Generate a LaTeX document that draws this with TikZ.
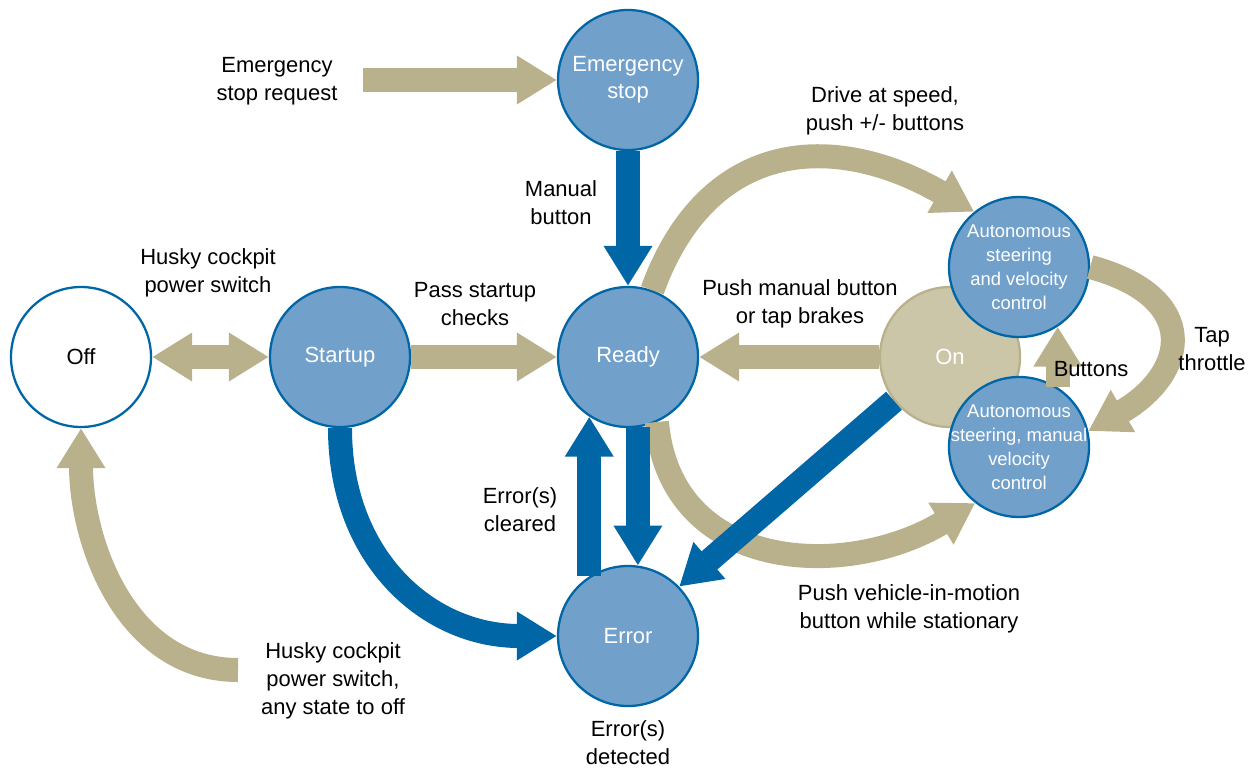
\documentclass[tikz,border=0pt]{standalone}
\usepackage{fontspec}
\setmainfont{Liberation Sans}
\usepackage{xcolor}
\usepackage{tikz}
\usetikzlibrary{arrows.meta,positioning,calc}
\definecolor{StateBlue}{HTML}{71A0CB}
\definecolor{EdgeBlue}{HTML}{0066A6}
\definecolor{Khaki}{HTML}{B9B08C}
\definecolor{KhakiLight}{HTML}{CCC6A8}
\tikzset{
  fat/.tip={Triangle[width=0.92cm,length=0.8cm]},
  state/.style={circle,minimum size=2.8cm,inner sep=0pt,draw=EdgeBlue,line width=1.3pt,fill=StateBlue,text=white,align=center,font=\fontsize{12.5}{15.4}\selectfont},
  smallstate/.style={state,inner sep=-0.8cm,font=\fontsize{10.5}{13.6}\selectfont},
  khakiarrow/.style={line width=0.48cm,Khaki,-fat},
  bluearrow/.style={line width=0.48cm,EdgeBlue,-fat},
  lbl/.style={align=center,font=\fontsize{12.5}{15.9}\selectfont}
}
\begin{document}
\begin{tikzpicture}
  \useasboundingbox (0,0) rectangle (25.18,15.4);
  % states
  \node[state,fill=white,text=black] (off) at (1.62,8.26) {Off};
  \node[state] (startup) at (6.80,8.26) {Startup};
  \node[state] (ready) at (12.56,8.26) {Ready};
  \node[state] (estop) at (12.56,13.80) {Emergency\\stop};
  \node[state] (error) at (12.56,2.68) {Error};
  \node[state,fill=KhakiLight,draw=Khaki] (on) at (19.00,8.26) {On};
  \node[smallstate] (autoA) at (20.38,10.06) {Autonomous\\steering\\and velocity\\control};
  \node[smallstate] (autoB) at (20.38,6.46) {Autonomous\\steering, manual\\velocity\\control};
  \coordinate (req) at (7.26,13.80);
  \coordinate (offback) at (4.76,2.00);
  % khaki transitions
  \draw[khakiarrow] (req) -- (estop);
  \draw[khakiarrow,fat-fat] (off) -- (startup);
  \draw[khakiarrow] (startup) -- (ready);
  \draw[khakiarrow] (on) -- (ready);
  \draw[khakiarrow] (ready.70) to[out=70,in=150,looseness=1.25] (autoA.129);
  \draw[khakiarrow] (ready.-66) to[out=-85,in=211,looseness=1.18] (autoB.232);
  \draw[khakiarrow] (autoA.0) to[out=-15,in=30,looseness=1.8] (autoB.13);
  \draw[khakiarrow] (autoB.57) -- (autoA.-57);
  \draw[khakiarrow] (offback) to[out=180,in=-90] (off.south);
  % blue transitions
  \draw[bluearrow] (estop) -- (ready);
  \draw[bluearrow] (ready.-82) -- (error.82);
  \draw[bluearrow] (error.123) -- (ready.-123);
  \draw[bluearrow] (startup.south) to[out=-90,in=180,looseness=1.1] (error.west);
  \draw[bluearrow] (on.218) -- (error.44);
  % labels
  \node[lbl] (reqlbl) at (5.54,13.78) {Emergency\\stop request};
  \node[lbl] (manlbl) at (11.22,11.34) {Manual\\button};
  \node[lbl] (drivelbl) at (17.70,13.18) {Drive at speed,\\push +/- buttons};
  \node[lbl] (pwrlbl) at (4.16,9.94) {Husky cockpit\\power switch};
  \node[lbl] (passlbl) at (9.50,9.32) {Pass startup\\checks};
  \node[lbl] (brakelbl) at (16.00,9.32) {Push manual button\\or tap brakes};
  \node[lbl] (taplbl) at (24.24,8.42) {Tap\\throttle};
  \node[lbl] (btnlbl) at (21.82,8.02) {Buttons};
  \node[lbl] (clrlbl) at (10.40,5.20) {Error(s)\\cleared};
  \node[lbl] (motionlbl) at (18.18,3.22) {Push vehicle-in-motion\\button while stationary};
  \node[lbl] (anylbl) at (6.66,1.78) {Husky cockpit\\power switch,\\any state to off};
  \node[lbl] (detlbl) at (12.56,0.54) {Error(s)\\detected};
\end{tikzpicture}
\end{document}
